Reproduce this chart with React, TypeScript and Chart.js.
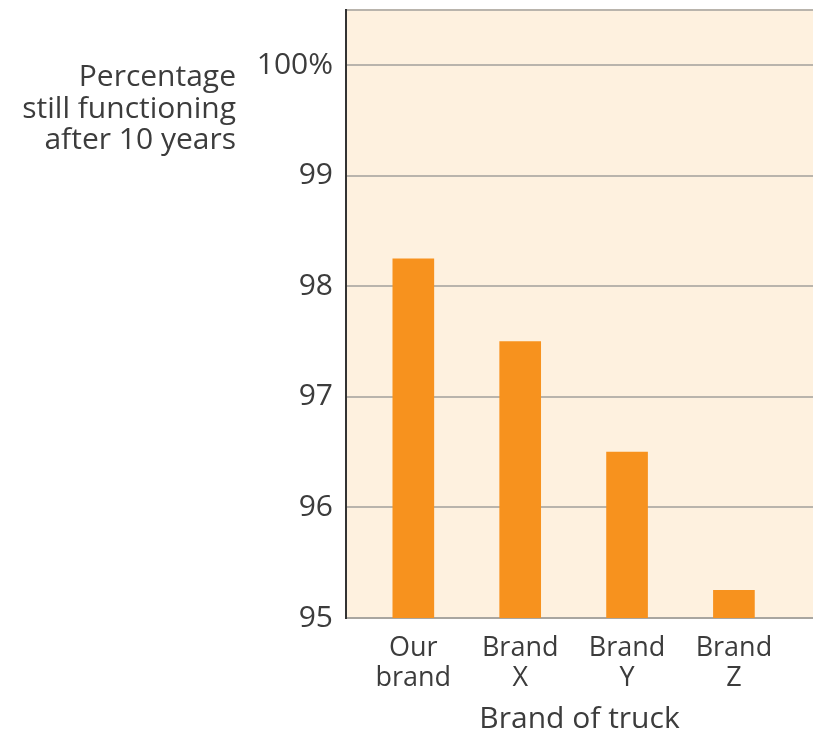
import React, { useEffect, useRef } from 'react';
import { Chart, registerables } from 'chart.js';
Chart.register(...registerables);

const categories: string[][] = [['Our', 'brand'], ['Brand', 'X'], ['Brand', 'Y'], ['Brand', 'Z']];
const values: number[] = [98.25, 97.5, 96.5, 95.25];
const yTickValues: number[] = [95, 96, 97, 98, 99, 100];
const yTitleLines: string[] = ['Percentage', 'still functioning', 'after 10 years'];
const xTitle = 'Brand of truck';

const FONT = "'Open Sans', sans-serif";
const TEXT = '#3c3c3c';
const BG = '#fef1df';
const BAR = '#f7921e';
const GRID = '#b9b4ac';

const bgPlugin = {
  id: 'bgPlugin',
  beforeDraw(chart: any) {
    const { ctx, chartArea } = chart;
    ctx.save();
    ctx.fillStyle = BG;
    ctx.fillRect(chartArea.left, chartArea.top, chartArea.right - chartArea.left, chartArea.bottom - chartArea.top);
    ctx.restore();
  },
  afterDraw(chart: any) {
    const { ctx } = chart;
    const y = chart.scales.y;
    const top = y.getPixelForValue(100);
    ctx.save();
    ctx.font = `30px ${FONT}`;
    ctx.fillStyle = TEXT;
    ctx.textAlign = 'right';
    ctx.textBaseline = 'alphabetic';
    yTitleLines.forEach((line, i) => {
      ctx.fillText(line, 236, top + 21 + i * 31.5);
    });
    ctx.restore();
  },
};

export default function App() {
  const ref = useRef<HTMLCanvasElement>(null);
  useEffect(() => {
    if (!ref.current) return;
    const chart = new Chart(ref.current, {
      type: 'bar',
      data: {
        datasets: [
          {
            data: values.map((v, i) => ({ x: i, y: v })),
            backgroundColor: BAR,
            barThickness: 41,
            borderWidth: 0,
          },
        ],
      },
      options: {
        animation: false,
        responsive: false,
        maintainAspectRatio: false,
        layout: { padding: { top: 10, left: 0, right: 0, bottom: 0 } },
        plugins: { legend: { display: false }, tooltip: { enabled: false } },
        scales: {
          x: {
            type: 'linear',
            offset: false,
            min: -0.63,
            max: 3.74,
            afterBuildTicks(scale: any) {
              scale.ticks = categories.map((_, i) => ({ value: i }));
            },
            afterFit(scale: any) {
              scale.height = 119;
              scale.paddingLeft = 0;
              scale.paddingRight = 0;
            },
            grid: { display: false, drawTicks: false, offset: false },
            border: { display: true, color: '#a9a6a0', width: 2 },
            ticks: {
              autoSkip: false,
              maxRotation: 0,
              padding: 15,
              color: TEXT,
              font: { family: FONT, size: 27, lineHeight: 1.11 },
              callback: (v: any) => categories[v as number] ?? '',
            },
            title: {
              display: true,
              text: xTitle,
              color: TEXT,
              font: { family: FONT, size: 30 },
              padding: { top: 0, bottom: 0 },
            },
          },
          y: {
            type: 'linear',
            min: 95,
            max: 100.5,
            afterBuildTicks(scale: any) {
              scale.ticks = [...yTickValues, 100.5].map((v) => ({ value: v }));
            },
            afterFit(scale: any) {
              scale.width = 346;
              scale.paddingTop = 0;
              scale.paddingBottom = 0;
            },
            grid: { color: GRID, lineWidth: 2, drawTicks: false },
            border: { display: true, color: '#333333', width: 2 },
            ticks: {
              padding: 13,
              color: TEXT,
              font: { family: FONT, size: 30 },
              callback: (v: any) => (v === 100 ? '100%' : yTickValues.includes(v) ? String(v) : ''),
            },
          },
        },
      },
      plugins: [bgPlugin],
    });
    return () => chart.destroy();
  }, []);
  return (
    <div style={{ position: 'absolute', left: 0, top: 0, width: 813, height: 737 }}>
      <canvas ref={ref} width={813} height={737} style={{ width: 813, height: 737 }} />
    </div>
  );
}
